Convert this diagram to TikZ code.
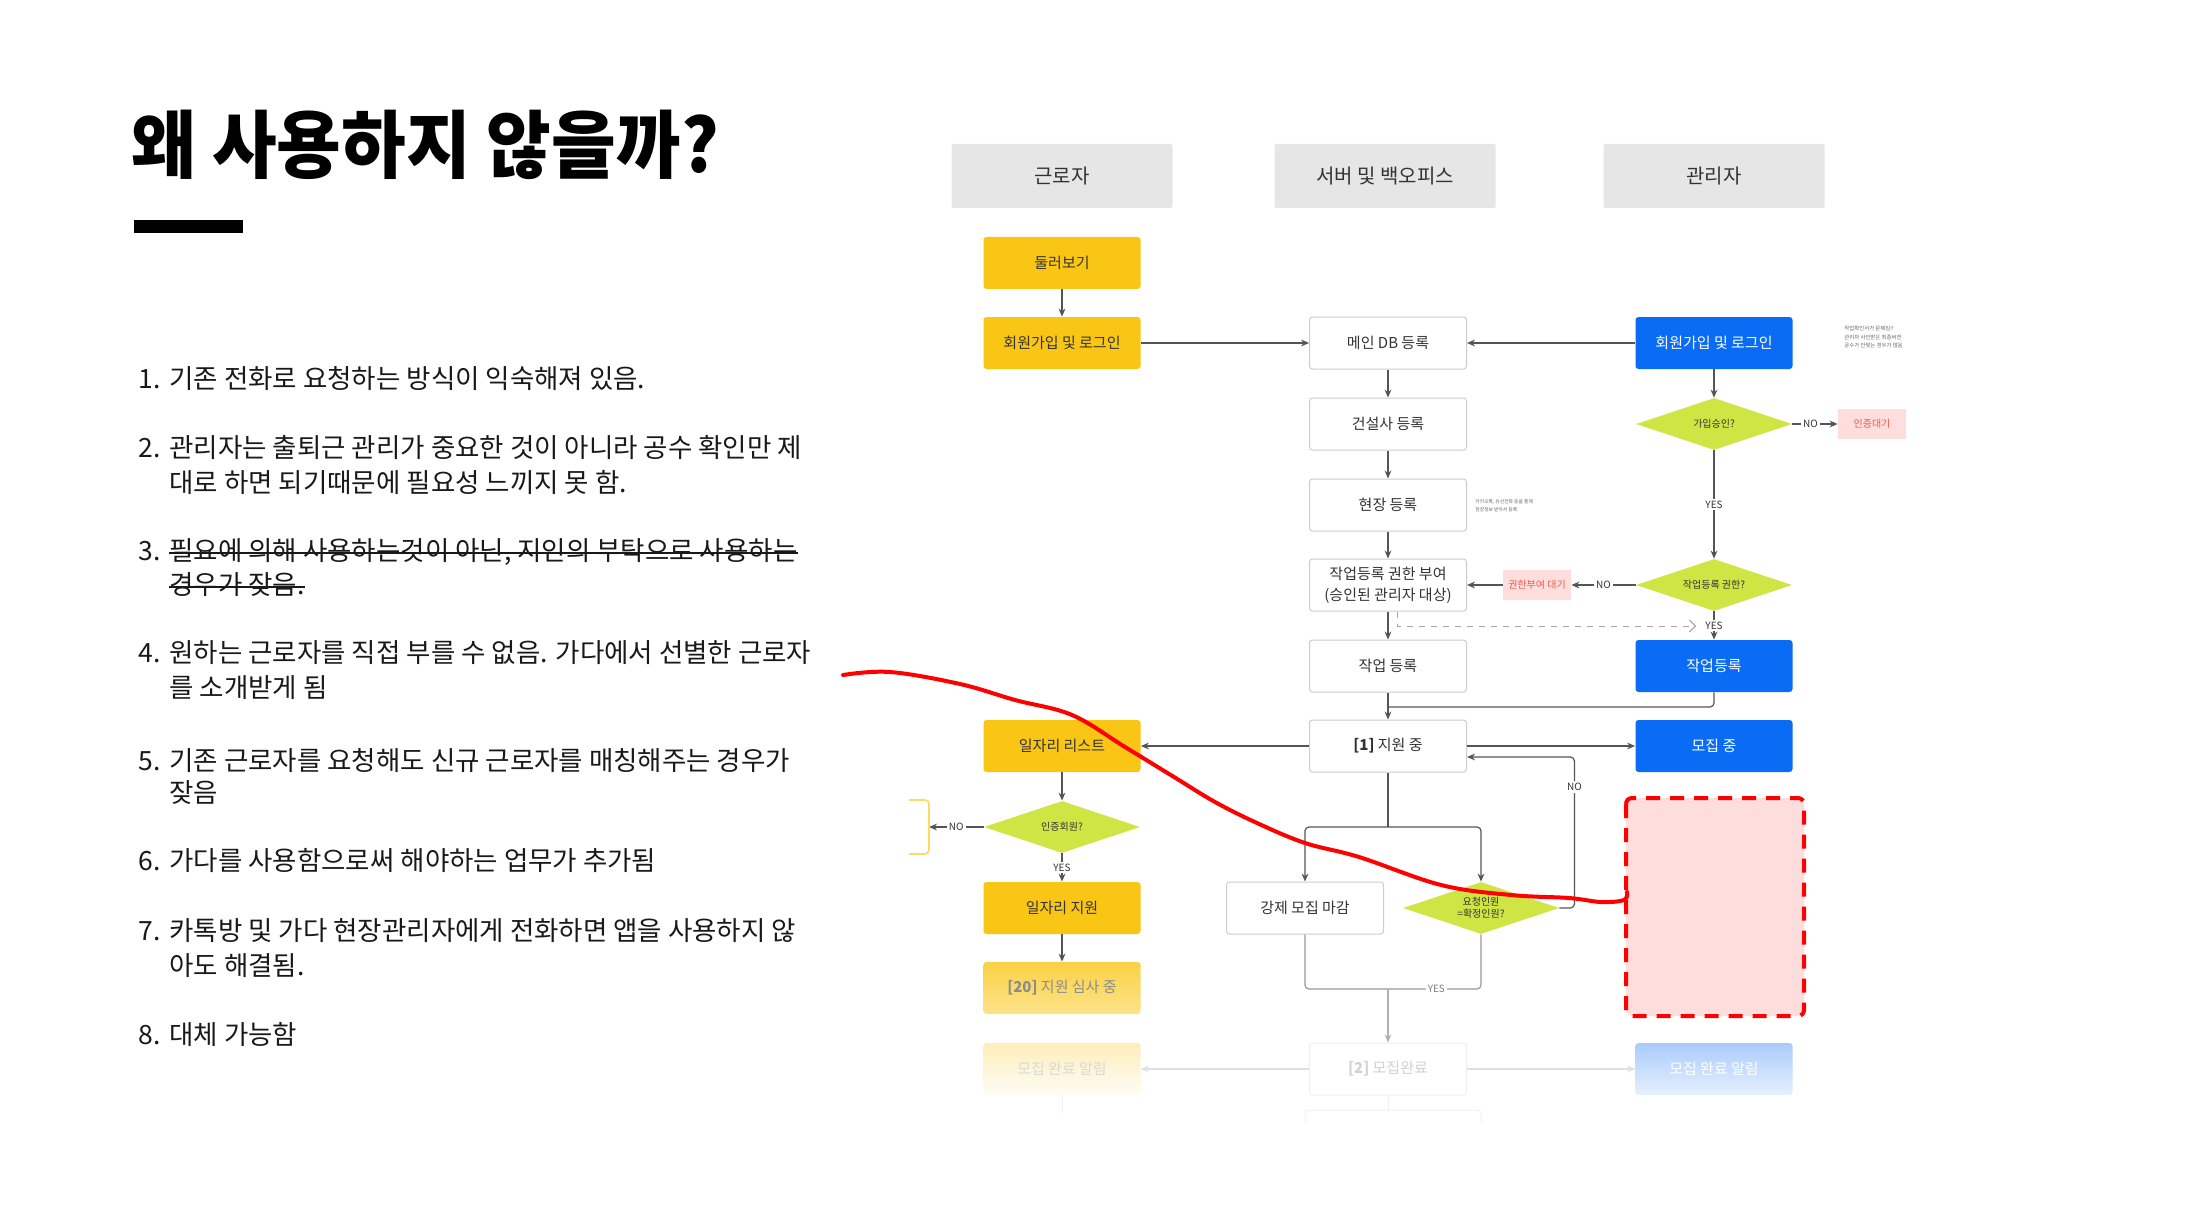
\documentclass[tikz,border=0pt]{standalone}
\usepackage{fontspec}
\setmainfont{Noto Sans CJK KR}
\usetikzlibrary{positioning,arrows.meta,shapes.geometric,calc}
\definecolor{noran}{HTML}{F9C615}
\definecolor{parang}{HTML}{0A6CF5}
\definecolor{yeondu}{HTML}{CFE543}
\definecolor{bunhong}{HTML}{FDDEDC}
\definecolor{jeok}{HTML}{F2594B}
\definecolor{hoesaek}{HTML}{E6E6E6}
\definecolor{meok}{HTML}{333333}
\definecolor{teduri}{HTML}{CCCCCC}
\definecolor{seon}{HTML}{555555}

\begin{document}
\begin{tikzpicture}[x=0.5pt, y=-0.5pt, >={Stealth[length=4pt,width=3.4pt]},
      hdr/.style={fill=hoesaek, minimum width=110.5pt, minimum height=32pt, rounded corners=1pt,
                  font=\fontsize{10}{12}\selectfont, text=meok},
      b/.style={rounded corners=1.5pt, minimum width=78.5pt, minimum height=26pt, inner sep=1pt,
                align=center, font=\fontsize{7.5}{10.5}\selectfont},
      yb/.style={b, fill=noran, text=meok},
      wb/.style={b, draw=teduri, line width=0.5pt, fill=white, text=meok},
      ab/.style={b, fill=parang, text=white},
      dec/.style={diamond, aspect=3, fill=yeondu, minimum width=78pt, minimum height=26pt,
                  inner sep=0pt, align=center, font=\fontsize{5}{6}\selectfont, text=meok},
      wait/.style={fill=bunhong, text=jeok, minimum width=34pt, minimum height=15pt, inner sep=0pt,
                   font=\fontsize{5}{6}\selectfont},
      lbl/.style={fill=white, inner sep=1pt, font=\fontsize{5}{6}\selectfont, text=meok},
      con/.style={draw=seon, line width=0.6pt},
      memo/.style={anchor=west, inner sep=0pt, align=left, text=black!60},
      item/.style={anchor=base west, inner sep=0pt, font=\fontsize{13.25}{15}\selectfont, text=black!90},
      strike/.style={line width=0.6pt, black!90}]
    \useasboundingbox (0,0) rectangle (2200,1230);
    \fill[white] (0,0) rectangle (2200,1230);

    % title and list
    \node[anchor=base west, inner sep=0pt, font=\fontsize{37}{40}\selectfont\bfseries] (title)
         at (131,173) {\scalebox{0.95}[1]{왜 사용하지 않을까?}};
    \fill (134,220) rectangle (243,233);
    \foreach \n/\y in {1/388,2/457,3/560,4/662,5/770,6/870,7/940,8/1044}
      \node[item] (n\n) at (138,\y) {\n.};
    \node[item] (t1) at (169,388) {기존 전화로 요청하는 방식이 익숙해져 있음.};
    \node[item] (t2a) at (169,457) {관리자는 출퇴근 관리가 중요한 것이 아니라 공수 확인만 제};
    \node[item] (t2b) at (169,492) {대로 하면 되기때문에 필요성 느끼지 못 함.};
    \node[item] (t3a) at (169,560) {필요에 의해 사용하는것이 아닌, 지인의 부탁으로 사용하는};
    \node[item] (t3b) at (169,594) {경우가 잦음.};
    \draw[strike] ([yshift=3.5pt]t3a.base west) -- ([yshift=3.5pt]t3a.base east);
    \draw[strike] ([yshift=3.5pt]t3b.base west) -- ([yshift=3.5pt]t3b.base east);
    \node[item] (t4a) at (169,662) {원하는 근로자를 직접 부를 수 없음. 가다에서 선별한 근로자};
    \node[item] (t4b) at (169,697) {를 소개받게 됨};
    \node[item] (t5a) at (169,770) {기존 근로자를 요청해도 신규 근로자를 매칭해주는 경우가};
    \node[item] (t5b) at (169,802) {잦음};
    \node[item] (t6) at (169,870) {가다를 사용함으로써 해야하는 업무가 추가됨};
    \node[item] (t7a) at (169,940) {카톡방 및 가다 현장관리자에게 전화하면 앱을 사용하지 않};
    \node[item] (t7b) at (169,975) {아도 해결됨.};
    \node[item] (t8) at (169,1044) {대체 가능함};

    % lanes
    \node[hdr] (hwork) at (1062,176) {근로자};
    \node[hdr] (hserv) at (1385,176) {서버 및 백오피스};
    \node[hdr] (hadm) at (1714,176) {관리자};

    % flow
    \node[yb] (look) at (1062,263) {둘러보기};
    \node[yb] (wjoin) at (1062,343) {회원가입 및 로그인};
    \node[wb] (maindb) at (1388,343) {메인 DB 등록};
    \node[ab] (ajoin) at (1714,343) {회원가입 및 로그인};
    \node[memo, anchor=north west, font=\fontsize{2.7}{4.2}\selectfont] (memo1) at (1844,326)
         {작업확인서가 문제임!!\\관리자 사인받은 최종버전\\공수가 안맞는 경우가 많음};
    \node[wb] (builder) at (1388,424) {건설사 등록};
    \node[dec] (approve) at (1714,424) {가입승인?};
    \node[wait] (waitcert) at (1872,424) {인증대기};
    \node[wb] (site) at (1388,505) {현장 등록};
    \node[memo, font=\fontsize{2.4}{4}\selectfont] (memo2) at (1475,506)
         {카카오톡, 유선전화 등을 통해\\현장정보 받아서 등록};
    \node[wb] (grant) at (1388,585) {작업등록 권한 부여\\(승인된 관리자 대상)};
    \node[dec] (rightq) at (1714,585) {작업등록 권한?};
    \node[wait] (waitgrant) at (1537,585) {권한부여 대기};
    \node[wb] (task) at (1388,666) {작업 등록};
    \node[ab] (atask) at (1714,666) {작업등록};
    \node[yb] (joblist) at (1062,746) {일자리 리스트};
    \node[wb] (apply1) at (1388,746) {\textbf{[1]} 지원 중};
    \node[ab] (recruit) at (1714,746) {모집 중};
    \node[dec] (certq) at (1062,827) {인증회원?};
    \node[yb] (jobapply) at (1062,908) {일자리 지원};
    \node[wb] (forceclose) at (1305,908) {강제 모집 마감};
    \node[dec] (countq) at (1481,908) {요청인원\\=확정인원?};
    \node[b, top color=noran!80, bottom color=noran!50, text=black!45] (review) at (1062,988)
         {\textbf{[20]} 지원 심사 중};
    \node[b, top color=noran!30, bottom color=noran!4, text=black!15] (wdone) at (1062,1069) {모집 완료 알림};
    \node[b, draw=black!6, line width=0.5pt, fill=white, text=black!18] (done2) at (1388,1069)
         {\textbf{[2]} 모집완료};
    \node[b, top color=parang!35, bottom color=parang!10, text=white] (adone) at (1714,1069) {모집 완료 알림};

    \draw[con, ->] (look) -- (wjoin);
    \draw[con, ->] (wjoin) -- (maindb);
    \draw[con, ->] (ajoin) -- (maindb);
    \draw[con, ->] (maindb) -- (builder);
    \draw[con, ->] (builder) -- (site);
    \draw[con, ->] (site) -- (grant);
    \draw[con, ->] (grant) -- (task);
    \draw[con, ->] (ajoin) -- (approve);
    \draw[con, ->] (approve) -- node[lbl, pos=0.4]{NO} (waitcert);
    \draw[con, ->] (approve) -- node[lbl]{YES} (rightq);
    \draw[con, ->] (rightq) -- node[lbl]{NO} (waitgrant);
    \draw[con, ->] (waitgrant) -- (grant);
    \draw[con, ->] (rightq) -- node[lbl]{YES} (atask);
    \coordinate (dashend) at (1696,626);
    \draw[draw=black!35, dashed, line width=0.5pt, -{Straight Barb[length=3pt]}]
         ([xshift=4.5pt]grant.south) |- (dashend);
    \coordinate (merge) at (1388,707);
    \draw[con, rounded corners=2pt] (atask) |- (merge);
    \draw[con, ->] (task) -- (apply1);
    \draw[con, ->] (apply1) -- (joblist);
    \draw[con, ->] (apply1) -- (recruit);
    \draw[con, ->] (joblist) -- (certq);
    \draw[con, ->] (certq) -- node[lbl]{YES} (jobapply);
    \coordinate (bracket) at (929,827);
    \draw[con, ->] (certq) -- node[lbl]{NO} (bracket);
    \draw[noran!65, line width=0.8pt, rounded corners=2pt] (909,800) -- (929,800) -- (929,854) -- (909,854);
    \draw[con, ->] (jobapply) -- (review);
    \coordinate (split) at (1388,827);
    \draw[con] (apply1) -- (split);
    \draw[con, ->, rounded corners=2pt] (split) -| (forceclose);
    \draw[con, ->, rounded corners=2pt] (split) -| (countq);
    \draw[con, ->, rounded corners=2pt] (countq.east) -- ++(15,0)
         |- node[lbl, pos=0.4]{NO} ([yshift=-5.5pt]apply1.east);
    \coordinate (merge2) at (1388,989);
    \draw[con, draw=black!40, rounded corners=2pt] (forceclose) |- (merge2);
    \draw[con, draw=black!40, rounded corners=2pt] (countq) |- node[lbl, pos=0.74, text=black!50]{YES} (merge2);
    \draw[con, draw=black!30, ->] (merge2) -- (done2);
    \draw[con, draw=black!12, ->] (done2) -- (wdone);
    \draw[con, draw=black!12, ->] (done2) -- (adone);
    \draw[draw=black!6, line width=0.5pt] (wdone.south) -- ++(0,18);
    \draw[draw=black!6, line width=0.5pt] (done2.south) -- ++(0,16);
    \draw[draw=black!5, line width=0.5pt, rounded corners=2pt] (1305,1122) |- (1481,1110) -- (1481,1122);

    % red marks
    \draw[red, fill=bunhong, line width=2pt, dash pattern=on 7pt off 5pt, rounded corners=3pt]
         (1626,798) rectangle (1804,1016);
    \draw[red, line width=2pt, line cap=round] plot[smooth, tension=0.6] coordinates {
         (843,675) (890,672) (960,684) (1015,700) (1072,715) (1125,747) (1174,777) (1215,802)
         (1257,823) (1305,843) (1359,857) (1441,885) (1511,895) (1569,898) (1601,902) (1624,900) (1627,892)};
\end{tikzpicture}
\end{document}
